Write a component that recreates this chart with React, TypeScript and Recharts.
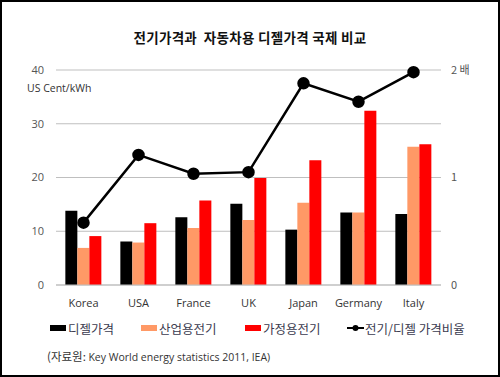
import React from 'react';
import { ComposedChart, Bar, Line, XAxis, YAxis, CartesianGrid } from 'recharts';

const countries = ['Korea', 'USA', 'France', 'UK', 'Japan', 'Germany', 'Italy'];
const dieselPrice = [13.8, 8.1, 12.6, 15.1, 10.3, 13.5, 13.2];
const industrialPower = [6.9, 7.9, 10.6, 12.1, 15.3, 13.5, 25.7];
const householdPower = [9.1, 11.5, 15.7, 19.9, 23.2, 32.4, 26.2];
const priceRatio = [0.58, 1.21, 1.035, 1.05, 1.876, 1.705, 1.98];
const leftTicks = [0, 10, 20, 30, 40];
const rightTicks = [0, 1, 2];

const data = countries.map((c, i) => ({
  name: c,
  diesel: dieselPrice[i],
  industrial: industrialPower[i],
  household: householdPower[i],
  ratio: priceRatio[i],
}));

const KR = '"Noto Sans CJK KR", "Noto Sans", sans-serif';
const LAT = '"Open Sans", "Noto Sans", sans-serif';

const legendItems = [
  { label: '디젤가격', color: '#000000', x: 50 },
  { label: '산업용전기', color: '#FF9966', x: 141 },
  { label: '가정용전기', color: '#FF0000', x: 245 },
];

function LegendBox() {
  return (
    <div style={{ position: 'absolute', left: 0, top: 318, width: 500, height: 20, fontFamily: KR, fontSize: 12.5, color: '#3b3b4f' }}>
      {legendItems.map((it) => (
        <div key={it.label} style={{ position: 'absolute', left: it.x, top: 0, display: 'flex', alignItems: 'center', height: 20 }}>
          <div style={{ width: 16, height: 6, background: it.color, marginRight: 2 }} />
          <span>{it.label}</span>
        </div>
      ))}
      <div style={{ position: 'absolute', left: 347, top: 0, display: 'flex', alignItems: 'center', height: 20 }}>
        <svg width={17} height={10} style={{ marginRight: 1 }}>
          <line x1={0} y1={5} x2={17} y2={5} stroke="#000" strokeWidth={2} />
          <circle cx={8.5} cy={5} r={3} fill="#000" />
        </svg>
        <span>전기/디젤 가격비율</span>
      </div>
    </div>
  );
}

export default function App() {
  return (
    <div style={{ position: 'absolute', left: 0, top: 0, width: 500, height: 377, background: '#fff' }}>
      <ComposedChart
        width={500}
        height={377}
        data={data}
        margin={{ top: 70, right: 0, bottom: 62, left: 0 }}
        barCategoryGap="17%"
        barGap={0}
        style={{ position: 'absolute', left: 0, top: 0 }}
      >
        <CartesianGrid vertical={false} stroke="#bfbfbf" yAxisId="left" />
        <XAxis
          dataKey="name"
          axisLine={{ stroke: '#bfbfbf' }}
          tickLine={false}
          tickMargin={8}
          height={30}
          interval={0}
          tick={{ fontFamily: LAT, fontSize: 11, fill: '#333' }}
        />
        <YAxis
          yAxisId="left"
          width={56}
          domain={[0, 40]}
          ticks={leftTicks}
          axisLine={false}
          tickLine={false}
          tickMargin={6}
          tick={{ fontFamily: LAT, fontSize: 11, fill: '#555' }}
        />
        <YAxis
          yAxisId="right"
          orientation="right"
          width={59}
          domain={[0, 2]}
          ticks={rightTicks}
          axisLine={false}
          tickLine={false}
          tickMargin={4}
          tickFormatter={(v: number) => (v === 2 ? '2 배' : String(v))}
          tick={{ fontFamily: KR, fontSize: 11, fill: '#555' }}
        />
        <Bar yAxisId="left" dataKey="diesel" fill="#000000" isAnimationActive={false} />
        <Bar yAxisId="left" dataKey="industrial" fill="#FF9966" isAnimationActive={false} />
        <Bar yAxisId="left" dataKey="household" fill="#FF0000" isAnimationActive={false} />
        <Line
          yAxisId="right"
          dataKey="ratio"
          stroke="#000"
          strokeWidth={2.5}
          dot={{ r: 5, fill: '#000', stroke: '#000' }}
          isAnimationActive={false}
        />
      </ComposedChart>
      <div style={{ position: 'absolute', left: 0, top: 0, width: 500, height: 377, boxSizing: 'border-box', border: '2px solid #000', pointerEvents: 'none' }} />
      <div style={{ position: 'absolute', left: 0, top: 27, width: 500, textAlign: 'center', fontFamily: KR, fontWeight: 700, fontSize: 13.5, letterSpacing: 0.3, color: '#111', whiteSpace: 'pre' }}>
        {'전기가격과  자동차용 디젤가격 국제 비교'}
      </div>
      <div style={{ position: 'absolute', left: 27, top: 81, fontFamily: LAT, fontSize: 10.5, color: '#333' }}>US Cent/kWh</div>
      <LegendBox />
      <div style={{ position: 'absolute', left: 47, top: 348, fontFamily: KR, fontSize: 11.5, color: '#333' }}>
        (자료원: <span style={{ fontFamily: LAT, fontSize: 10.5 }}>Key World energy statistics 2011, IEA)</span>
      </div>
    </div>
  );
}
